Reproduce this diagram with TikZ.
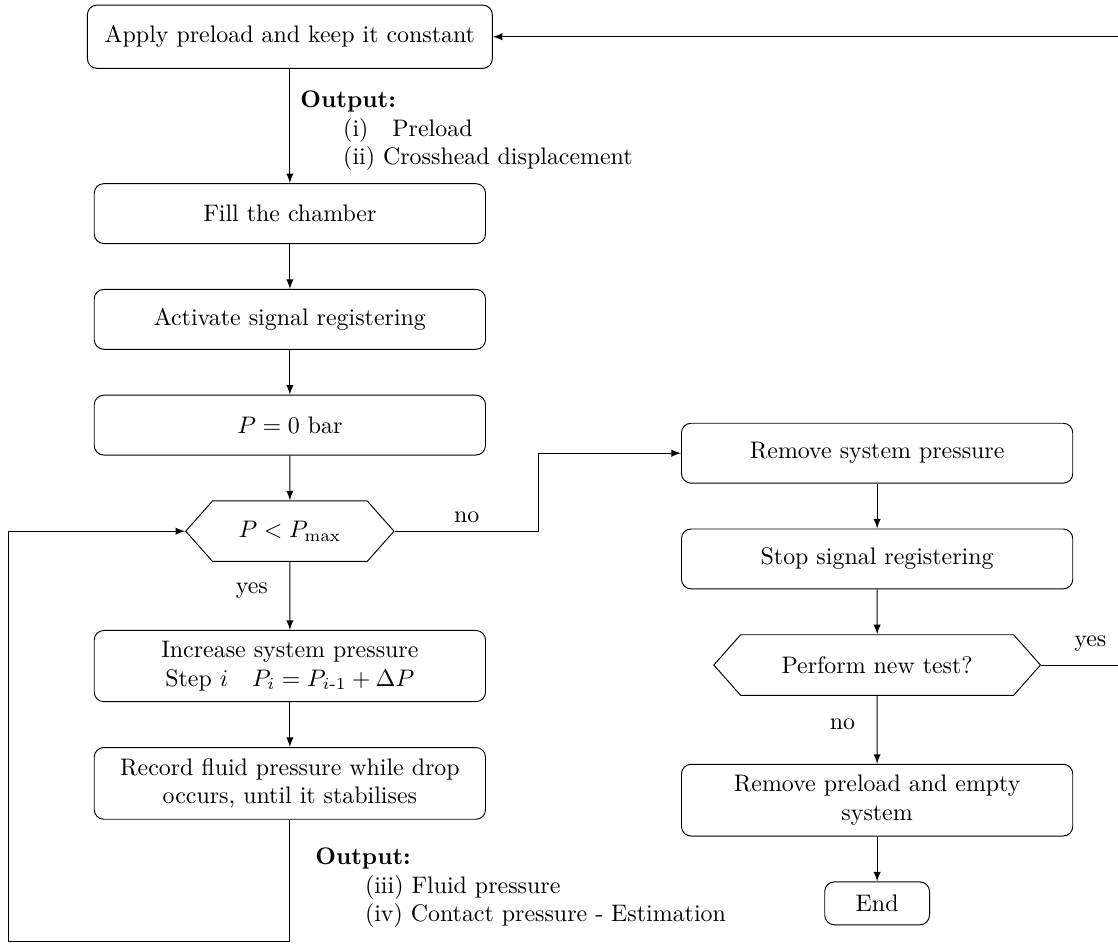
\documentclass[tikz,border=0pt]{standalone}
\usepackage{amsmath, amssymb}
\usepackage{tikz}
\usetikzlibrary{arrows,positioning,shapes.symbols}

\begin{document}
\begin{tikzpicture}[node distance=6.6mm and 5mm, >=latex]

\tikzset{stepnode/.style={draw,rounded corners=4pt,inner sep=4.5pt,minimum width=5.75cm,minimum height=8.8mm,align=center},
testnode/.style={draw,shape=signal,signal to=west and east,signal pointer angle=97,inner sep=1pt,minimum height=8.9mm},
outnode/.style={align=left},
line/.style={draw,->}}

\useasboundingbox (0,0) rectangle (16.43,-13.86);

% Main column
\node[stepnode,minimum width=5.95cm,minimum height=9.3mm] (start) at (4.26,-0.54) {Apply preload and keep it constant};
\node[stepnode,below=1.68cm of start] (fill) {Fill the chamber};
\node[stepnode,below=of fill] (activate) {Activate signal registering};
\node[stepnode,below=of activate] (pzero) {$P = 0$ bar};
\node[testnode,below=of pzero,minimum width=3.06cm] (pmax) {$P < P_{\max}$};
\node[stepnode,below=1cm of pmax] (increase) {Increase system pressure\\ Step $i$\quad $P_i = P_{i\text{-}1} + \Delta P$};
\node[stepnode,below=of increase] (record) {Record fluid pressure while drop\\ occurs, until it stabilises};

% Second column
\node[stepnode] (remove) at (12.89,-6.66) {Remove system pressure};
\node[stepnode,below=of remove] (stop) {Stop signal registering};
\node[testnode,below=of stop,minimum width=4.8cm] (newtest) {Perform new test?};
\node[stepnode,below=1cm of newtest] (empty) {Remove preload and empty\\ system};
\node[stepnode,below=of empty,minimum width=1.54cm,minimum height=6.3mm] (theend) {End};

% Outputs
\node[outnode,below right=2mm and 0.3mm of start.south] (out1) {\textbf{Output:}\\ \hspace*{6.3mm}(i)\quad Preload\\ \hspace*{6.3mm}(ii) Crosshead displacement};
\node[outnode,below right=2.9mm and 2.5mm of record.south] (out2) {\textbf{Output:}\\ \hspace*{7.3mm}(iii) Fluid pressure\\ \hspace*{7.3mm}(iv) Contact pressure - Estimation};

\coordinate (loopcorner) at (0.12,-13.83);

% Edges
\draw[line] (start) -- (fill);
\draw[line] (fill) -- (activate);
\draw[line] (activate) -- (pzero);
\draw[line] (pzero) -- (pmax);
\draw[line] (pmax) -- node[left=2mm,pos=0.42] {yes} (increase);
\draw[line] (increase) -- (record);
\draw[line] (record.south) |- (loopcorner) |- (pmax.west);
\draw[line] (pmax.east) -- node[above] {no} ++(2.12,0) |- (remove.west);
\draw[line] (remove) -- (stop);
\draw[line] (stop) -- (newtest);
\draw[line] (newtest) -- node[left=2mm,pos=0.42] {no} (empty);
\draw[line] (empty) -- (theend);
\draw[line] (newtest.east) -- node[above=0.8mm,pos=0.57] {yes} ++(1.27,0) |- (start.east);

\end{tikzpicture}
\end{document}
